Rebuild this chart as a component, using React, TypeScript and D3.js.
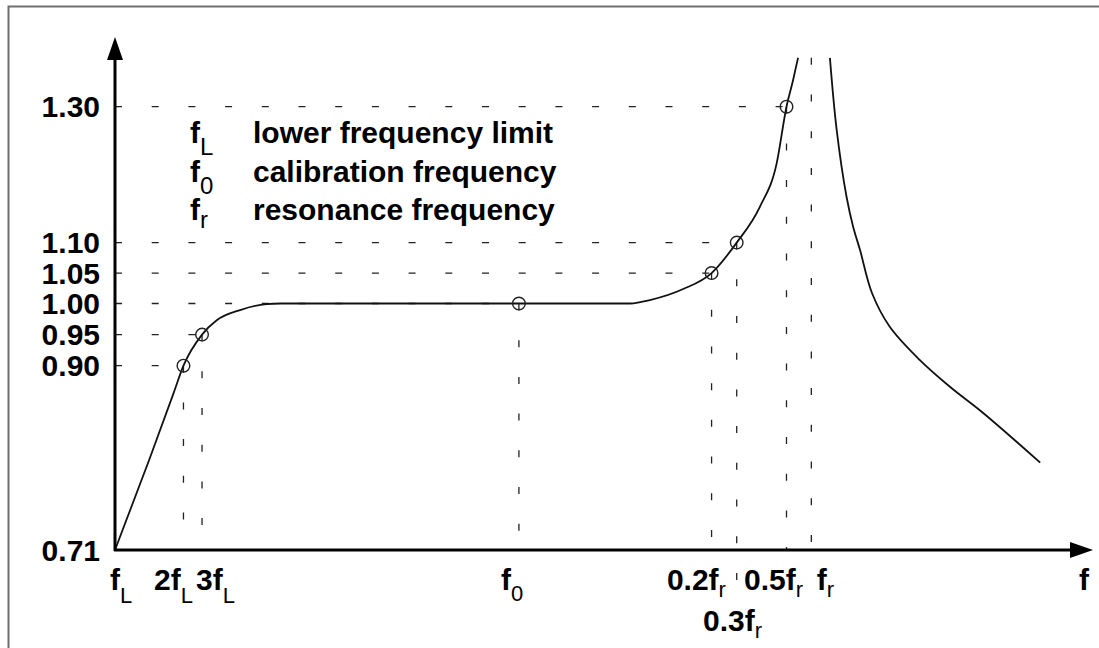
import React from "react";
import * as d3 from "d3";

// ---------- data ----------
const yTickValues = [0.71, 0.9, 0.95, 1.0, 1.05, 1.1, 1.3];
const yTickLabels = ["0.71", "0.90", "0.95", "1.00", "1.05", "1.10", "1.30"];

// schematic frequency positions (arbitrary axis units 0..100)
const xMarkNames = ["fL", "2fL", "3fL", "f0", "0.2fr", "0.3fr", "0.5fr", "fr"];
const xMarkPositions = [0, 7.0, 8.9, 41.3, 61.0, 63.57, 68.66, 71.2];
const xMarkMain = ["f", "2f", "3f", "f", "0.2f", "0.3f", "0.5f", "f"];
const xMarkSub = ["L", "L", "L", "0", "r", "r", "r", "r"];

// calibration points
const pointMarks = ["2fL", "3fL", "f0", "0.2fr", "0.3fr", "0.5fr"];
const pointValues = [0.9, 0.95, 1.0, 1.05, 1.1, 1.3];

// response curve, rising branch (below resonance)
const riseU = [0, 3.5, 6.0, 7.0, 8.9, 10.4, 12.8, 15.5, 16.9, 41.3, 52.7, 53.7, 54.7, 58.1, 61.0, 63.57, 65.95, 67.66, 68.66, 69.33, 69.84];
const riseV = [0.71, 0.803, 0.872, 0.9, 0.95, 0.973, 0.9895, 0.999, 1.0, 1.0, 1.0, 1.0024, 1.0057, 1.0238, 1.05, 1.1, 1.153, 1.217, 1.3, 1.339, 1.372];

// response curve, falling branch (above resonance)
const fallU = [73.1, 73.79, 74.8, 75.48, 76.18, 77.4, 79.2, 82.3, 85.4, 88.8, 94.6];
const fallV = [1.372, 1.266, 1.1675, 1.123, 1.0878, 1.0172, 0.963, 0.909, 0.878, 0.851, 0.8];

const legendSymbols = ["f", "f", "f"];
const legendSubs = ["L", "0", "r"];
const legendTexts = ["lower frequency limit", "calibration frequency", "resonance frequency"];

const axisLabel = "f";

// ---------- layout ----------
const W = 1099;
const H = 648;
const FONT = "'Liberation Sans', Arial, Helvetica, sans-serif";
const SUBFONT = "'Liberation Sans Narrow', 'Liberation Sans', Arial, sans-serif";
const FS = 30;
const labelDx = [-5, -29.5, -6, -18, -44.7, -33.7, -42.5, 5.3];
const labelRow = [0, 0, 0, 0, 0, 1, 0, 0];
const rowBase = [590, 631];
const subDy = [13, 13, 13, 11, 7, 7, 7, 7];

export default function App() {
  const x = d3.scaleLinear().domain([0, 100]).range([115, 1093]);
  const y = d3
    .scaleLinear()
    .domain([0.71, 0.9, 1.0, 1.1, 1.3, 1.4])
    .range([550, 365.7, 303.5, 242.6, 106.7, 38.8]);

  const x0 = x(0);
  const yAxis = y(0.71);
  const lineRise = d3
    .line<[number, number]>()
    .x((d) => x(d[0]))
    .y((d) => y(d[1]))
    .curve(d3.curveMonotoneX);
  const lineFall = d3
    .line<[number, number]>()
    .x((d) => x(d[0]))
    .y((d) => y(d[1]))
    .curve(d3.curveCatmullRom.alpha(0.5));

  const rise = riseU.map((u, i) => [u, riseV[i]] as [number, number]);
  const fall = fallU.map((u, i) => [u, fallV[i]] as [number, number]);

  const posOf = (name: string) => xMarkPositions[xMarkNames.indexOf(name)];
  const dash = "7 29.7";
  const frTop = riseV[riseV.length - 1];

  return (
    <svg
      width={W}
      height={H}
      style={{ position: "absolute", left: 0, top: 0, background: "#fff" }}
      fontFamily={FONT}
    >
      <rect x={0} y={0} width={W} height={H} fill="#fff" />
      {/* frame */}
      <rect x={8.5} y={6.5} width={1300} height={800} fill="none" stroke="#6e6e6e" strokeWidth={2} />

      {/* horizontal guides */}
      {pointMarks.map((m, i) => (
        <line
          key={"h" + m}
          x1={x0}
          x2={x(posOf(m))}
          y1={y(pointValues[i])}
          y2={y(pointValues[i])}
          stroke="#222"
          strokeWidth={1.3}
          strokeDasharray={dash}
        />
      ))}
      {/* vertical guides */}
      {pointMarks.map((m, i) => (
        <line
          key={"v" + m}
          x1={x(posOf(m))}
          x2={x(posOf(m))}
          y1={y(pointValues[i])}
          y2={m === "0.3fr" ? 581 : yAxis}
          stroke="#222"
          strokeWidth={1.3}
          strokeDasharray={dash}
        />
      ))}
      <line
        x1={x(posOf("fr"))}
        x2={x(posOf("fr"))}
        y1={y(frTop)}
        y2={yAxis}
        stroke="#222"
        strokeWidth={1.3}
        strokeDasharray={dash}
      />

      {/* curve */}
      <path d={lineRise(rise) || ""} fill="none" stroke="#111" strokeWidth={1.8} />
      <path d={lineFall(fall) || ""} fill="none" stroke="#111" strokeWidth={1.8} />

      {/* calibration points */}
      {pointMarks.map((m, i) => (
        <circle
          key={"c" + m}
          cx={x(posOf(m))}
          cy={y(pointValues[i])}
          r={6.3}
          fill="none"
          stroke="#222"
          strokeWidth={1.4}
        />
      ))}

      {/* axes */}
      <line x1={x0} x2={x0} y1={yAxis + 1} y2={58} stroke="#000" strokeWidth={3} />
      <path d={`M${x0 - 8},60 L${x0},37 L${x0 + 8},60 Z`} fill="#000" />
      <line x1={x0 - 1} x2={1072} y1={yAxis} y2={yAxis} stroke="#000" strokeWidth={3} />
      <path d={`M1070,${yAxis - 8} L1093,${yAxis} L1070,${yAxis + 8} Z`} fill="#000" />

      {/* y tick labels */}
      {yTickValues.map((v, i) => (
        <text
          key={"yt" + i}
          x={100}
          y={y(v) + 10.5}
          textAnchor="end"
          fontSize={FS}
          fontWeight="bold"
          fill="#000"
        >
          {yTickLabels[i]}
        </text>
      ))}

      {/* x tick labels */}
      {xMarkNames.map((n, i) => (
        <text
          key={"xt" + n}
          x={x(xMarkPositions[i]) + labelDx[i]}
          y={rowBase[labelRow[i]]}
          fontSize={FS}
          fill="#000"
        >
          <tspan fontWeight="bold">{xMarkMain[i]}</tspan>
          <tspan dy={subDy[i]} fontSize={22} fontFamily={SUBFONT}>
            {xMarkSub[i]}
          </tspan>
        </text>
      ))}
      <text x={1079} y={590} fontSize={FS} fontWeight="bold" fill="#000">
        {axisLabel}
      </text>

      {/* legend */}
      {legendTexts.map((t, i) => (
        <g key={"lg" + i}>
          <text x={190} y={143 + i * 38.5} fontSize={FS} fill="#000">
            <tspan fontWeight="bold">{legendSymbols[i]}</tspan>
            <tspan dy={i === 2 ? 8 : 12} fontSize={24} fontFamily={SUBFONT}>
              {legendSubs[i]}
            </tspan>
          </text>
          <text x={253} y={143 + i * 38.5} fontSize={FS} fontWeight="bold" fill="#000">
            {t}
          </text>
        </g>
      ))}
    </svg>
  );
}
